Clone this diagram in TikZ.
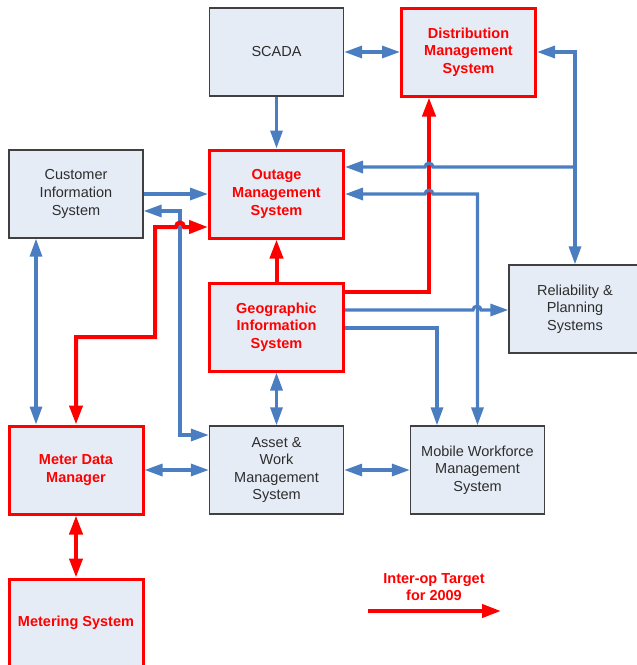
\documentclass[tikz,border=0pt]{standalone}
\usepackage{fontspec}
\setmainfont{Liberation Sans}
\usetikzlibrary{arrows.meta,positioning}

\definecolor{boxfill}{RGB}{230,236,246}
\definecolor{boxgray}{RGB}{64,64,64}
\definecolor{txtgray}{RGB}{45,45,45}
\definecolor{linkblue}{RGB}{74,126,193}
\definecolor{linkred}{RGB}{255,0,0}

\tikzset{
  sysbox/.style = {draw=boxgray, line width=1.3pt, fill=boxfill,
                   minimum width=134pt, minimum height=88pt, inner sep=0pt,
                   align=center, text=txtgray},
  keybox/.style = {sysbox, draw=linkred, line width=3pt, text=linkred,
                   font=\fontsize{14.5}{17.6}\selectfont\bfseries},
  blink/.style  = {draw=linkblue, line width=3.2pt,
                   >={Triangle[length=18pt,width=12pt]}},
  rlink/.style  = {draw=linkred, line width=4pt,
                   >={Triangle[length=19pt,width=13pt]}}
}

\begin{document}
\begin{tikzpicture}[x=1pt, y=-1pt, font=\fontsize{14.5}{17.6}\selectfont]
\useasboundingbox (0,0) rectangle (637,665);
\clip (0,0) rectangle (637,665);

% systems
\node[sysbox] (scada) at (276.5,52) {SCADA};
\node[keybox] (dms) at (468.5,52) {Distribution\\Management\\System};
\node[sysbox] (cis) at (76,194) {Customer\\Information\\System};
\node[keybox] (oms) at (276.5,194) {Outage\\Management\\System};
\node[sysbox, minimum width=132pt] (rel) at (575,309) {Reliability \&\\Planning\\Systems};
\node[keybox] (gis) at (276.5,327) {Geographic\\Information\\System};
\node[keybox] (mdm) at (76,470) {Meter Data\\Manager};
\node[sysbox] (asset) at (276.5,470) {Asset \&\\Work\\Management\\System};
\node[sysbox] (mwms) at (477.5,470) {Mobile Workforce\\Management\\System};
\node[keybox] (meter) at (76,623) {Metering System};

% legend
\node[text=linkred, font=\fontsize{14.5}{17}\selectfont\bfseries, align=center]
  (legend) at (434,587) {Inter-op Target\\for 2009};
\coordinate (lgA) at (368,611);
\coordinate (lgB) at (501,611);

% junction on the DMS - reliability line
\coordinate (jrel) at (575,167);

% CIS - Asset (under the red hop)
\draw[blink,<->] ([yshift=-17pt]cis.east) -| (180,435) -- ([yshift=35pt]asset.west);

% red links
\draw[rlink,->] (gis.north) -- (oms.south);
\draw[rlink,->] ([yshift=35pt]gis.east) -| ([xshift=-39.5pt]dms.south);
\draw[rlink,<->] (mdm.north) |- (155,337) |- (176,227)
  .. controls (176,221) and (184,221) .. (184,227) -- ([yshift=-33pt]oms.west);
\draw[rlink,<->] (mdm.south) -- (meter.north);
\draw[rlink,->] (lgA) -- (lgB);

% blue links
\draw[blink,<->] (scada.east) -- (dms.west);
\draw[blink,->] (scada.south) -- (oms.north);
\draw[blink,<->] (dms.east) -| (rel.north);
\draw[blink,->] (jrel) -- (433,167)
  .. controls (433,162) and (425,162) .. (425,167) -- ([yshift=27pt]oms.east);
\draw[blink,<->] (mwms.north) |- (433,194)
  .. controls (433,189) and (425,189) .. (425,194) -- (oms.east);
\draw[blink,->] (cis.east) -- (oms.west);
\draw[blink,<->] ([xshift=-40pt]cis.south) -- ([xshift=-40pt]mdm.north);
\draw[blink,->] ([yshift=17pt]gis.east) -- (473,310)
  .. controls (473,305) and (481,305) .. (481,310) -- (rel.west |- 0,310);
\draw[blink,->] ([yshift=-1pt]gis.east) -| ([xshift=-40.5pt]mwms.north);
\draw[blink,<->] (gis.south) -- (asset.north);
\draw[blink,<->] (mdm.east) -- (asset.west);
\draw[blink,<->] (asset.east) -- (mwms.west);
\end{tikzpicture}
\end{document}
